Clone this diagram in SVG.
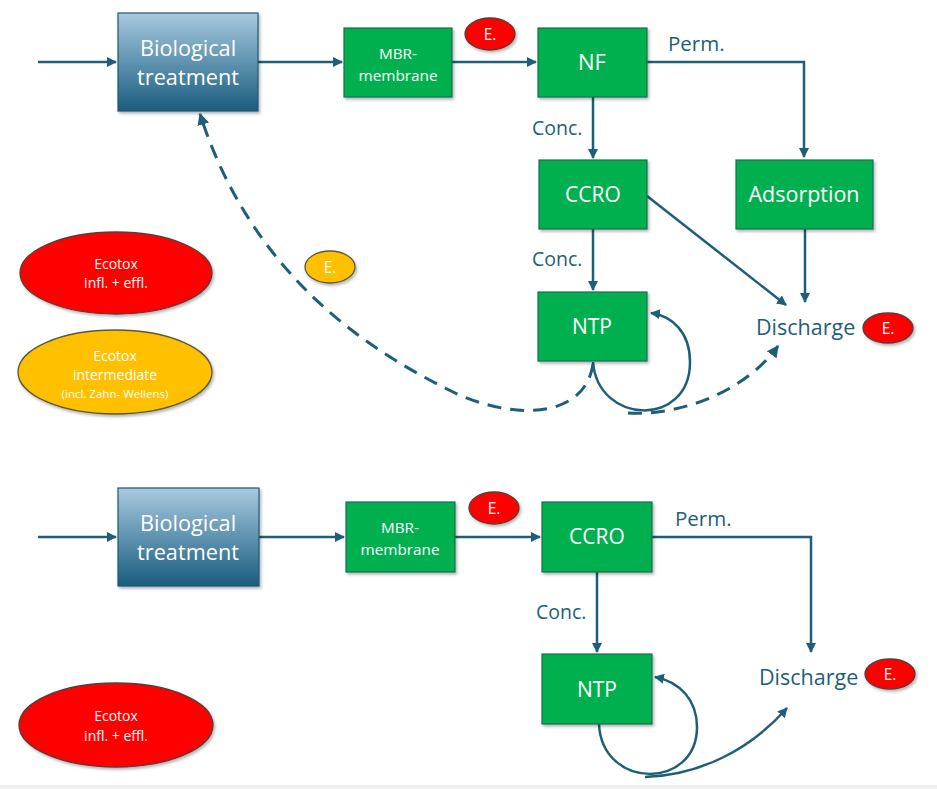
<svg xmlns="http://www.w3.org/2000/svg" width="937" height="789" viewBox="0 0 937 789">
<defs>
<linearGradient id="bio" x1="0" y1="0" x2="0" y2="1">
<stop offset="0" stop-color="#a9c9de"/>
<stop offset="0.5" stop-color="#5f93b0"/>
<stop offset="1" stop-color="#1b5c7d"/>
</linearGradient>
<marker id="ah" viewBox="0 0 10 10" refX="9" refY="5" markerWidth="4" markerHeight="4" orient="auto" markerUnits="strokeWidth">
<path d="M0,0 L10,5 L0,10 z" fill="#1d5f78"/>
</marker>
<filter id="sh" x="-10%" y="-10%" width="130%" height="130%">
<feDropShadow dx="1.5" dy="2" stdDeviation="1.5" flood-color="#000" flood-opacity="0.3"/>
</filter>
</defs>
<style>
.line{fill:none;stroke:#1d5f78;stroke-width:2.5}
.dash{fill:none;stroke:#1d5f78;stroke-width:3;stroke-dasharray:14 9}
.g{fill:#00b050;stroke:#1c6e55;stroke-width:1.2}
.bio{fill:url(#bio);stroke:#1f5878;stroke-width:1.2}
.red{fill:#ff0000;stroke:#5b3a3a;stroke-width:1.3}
.yel{fill:#ffc000;stroke:#5a5a3a;stroke-width:1.3}
.wt{font-family:"Open Sans",sans-serif;fill:#ffffff;text-anchor:middle}
.lbl{font-family:"Open Sans",sans-serif;fill:#1d5f78}
</style>
<rect x="0" y="0" width="937" height="789" fill="#ffffff"/>
<rect x="0" y="785" width="937" height="4" fill="#f0f0f0"/>

<g id="connectors">
<!-- top -->
<path class="line" d="M38,62 H116" marker-end="url(#ah)"/>
<path class="line" d="M258,62 H342" marker-end="url(#ah)"/>
<path class="line" d="M452,62 H536" marker-end="url(#ah)"/>
<path class="line" d="M647,62 H804 V157" marker-end="url(#ah)"/>
<path class="line" d="M593,97 V158" marker-end="url(#ah)"/>
<path class="line" d="M593,229 V290" marker-end="url(#ah)"/>
<path class="line" d="M647,196 L786,305" marker-end="url(#ah)"/>
<path class="line" d="M805,229 V302" marker-end="url(#ah)"/>
<path class="line" d="M593,362 C598,425 690,428 690,362 C690,332 672,316 651,313" marker-end="url(#ah)"/>
<path class="dash" d="M593,364 C585,420 510,422 445,388 C360,345 250,270 200,114" marker-end="url(#ah)"/>
<path class="dash" d="M628,413 C680,416 745,392 778,346" marker-end="url(#ah)"/>
<!-- bottom -->
<path class="line" d="M38,537 H116" marker-end="url(#ah)"/>
<path class="line" d="M259,537 H344" marker-end="url(#ah)"/>
<path class="line" d="M455,537 H540" marker-end="url(#ah)"/>
<path class="line" d="M652,537 H811 V652" marker-end="url(#ah)"/>
<path class="line" d="M597,572 V652" marker-end="url(#ah)"/>
<path class="line" d="M599,724 C602,790 697,790 697,727 C697,700 680,682 655,677" marker-end="url(#ah)"/>
<path class="line" d="M645,777 C700,775 750,750 787,708" marker-end="url(#ah)"/>
</g>

<g id="bio1"><rect class="bio" x="118" y="13" width="140" height="98" filter="url(#sh)"/>
<text class="wt" x="188" y="56" font-size="21.7">Biological</text>
<text class="wt" x="188" y="85" font-size="21.7">treatment</text></g>
<g id="mbr1"><rect class="g" x="344" y="28" width="108" height="69" filter="url(#sh)"/>
<text class="wt" x="398" y="59" font-size="15.3">MBR-</text>
<text class="wt" x="398" y="81" font-size="15.3">membrane</text></g>
<g id="e1"><ellipse class="red" cx="490" cy="34" rx="25" ry="16" filter="url(#sh)"/>
<text class="wt" x="490" y="40" font-size="15.5">E.</text></g>
<g id="nf"><rect class="g" x="538" y="28" width="109" height="69" filter="url(#sh)"/>
<text class="wt" x="592" y="70" font-size="22">NF</text></g>
<g id="ccro1"><rect class="g" x="539" y="160" width="108" height="69" filter="url(#sh)"/>
<text class="wt" x="593" y="202" font-size="21">CCRO</text></g>
<g id="ads"><rect class="g" x="736" y="160" width="137" height="69" filter="url(#sh)"/>
<text class="wt" x="804" y="202" font-size="21.5">Adsorption</text></g>
<g id="ntp1"><rect class="g" x="538" y="292" width="109" height="69" filter="url(#sh)"/>
<text class="wt" x="592" y="334" font-size="21">NTP</text></g>
<g id="dis1"><text class="lbl" x="756" y="335" font-size="21.5">Discharge</text></g>
<g id="e2"><ellipse class="red" cx="888" cy="328" rx="25" ry="15" filter="url(#sh)"/>
<text class="wt" x="888" y="334" font-size="15.5">E.</text></g>
<g id="e3"><ellipse class="yel" cx="330" cy="267" rx="25" ry="16" filter="url(#sh)"/>
<text class="wt" x="330" y="273" font-size="15.5">E.</text></g>
<g id="leg1"><ellipse class="red" cx="116" cy="273" rx="96" ry="41" filter="url(#sh)"/>
<text class="wt" x="116" y="269" font-size="14">Ecotox</text>
<text class="wt" x="116" y="288" font-size="14">infl. + effl.</text></g>
<g id="leg2"><ellipse class="yel" cx="115" cy="372" rx="97" ry="42" filter="url(#sh)"/>
<text class="wt" x="115" y="361" font-size="14">Ecotox</text>
<text class="wt" x="115" y="380" font-size="14">intermediate</text>
<text class="wt" x="115" y="398" font-size="11.5">(incl. Zahn- Wellens)</text></g>
<g id="lbls1">
<text class="lbl" x="668" y="51" font-size="20.5">Perm.</text>
<text class="lbl" x="532" y="135" font-size="19.5">Conc.</text>
<text class="lbl" x="532" y="266" font-size="19.5">Conc.</text>
</g>

<g id="bio2"><rect class="bio" x="118" y="488" width="141" height="98" filter="url(#sh)"/>
<text class="wt" x="188" y="531" font-size="21.7">Biological</text>
<text class="wt" x="188" y="560" font-size="21.7">treatment</text></g>
<g id="mbr2"><rect class="g" x="346" y="502" width="109" height="70" filter="url(#sh)"/>
<text class="wt" x="400" y="533" font-size="15.3">MBR-</text>
<text class="wt" x="400" y="555" font-size="15.3">membrane</text></g>
<g id="e4"><ellipse class="red" cx="494" cy="508" rx="25" ry="16" filter="url(#sh)"/>
<text class="wt" x="494" y="514" font-size="15.5">E.</text></g>
<g id="ccro2"><rect class="g" x="542" y="502" width="110" height="70" filter="url(#sh)"/>
<text class="wt" x="597" y="544" font-size="21">CCRO</text></g>
<g id="ntp2"><rect class="g" x="542" y="654" width="110" height="70" filter="url(#sh)"/>
<text class="wt" x="597" y="697" font-size="21">NTP</text></g>
<g id="dis2"><text class="lbl" x="759" y="685" font-size="21.5">Discharge</text></g>
<g id="e5"><ellipse class="red" cx="890" cy="674" rx="25" ry="15" filter="url(#sh)"/>
<text class="wt" x="890" y="680" font-size="15.5">E.</text></g>
<g id="leg3"><ellipse class="red" cx="116" cy="725" rx="97" ry="42" filter="url(#sh)"/>
<text class="wt" x="116" y="721" font-size="14">Ecotox</text>
<text class="wt" x="116" y="741" font-size="14">infl. + effl.</text></g>
<g id="lbls2">
<text class="lbl" x="675" y="526" font-size="20.5">Perm.</text>
<text class="lbl" x="536" y="619" font-size="19.5">Conc.</text>
</g>
</svg>
